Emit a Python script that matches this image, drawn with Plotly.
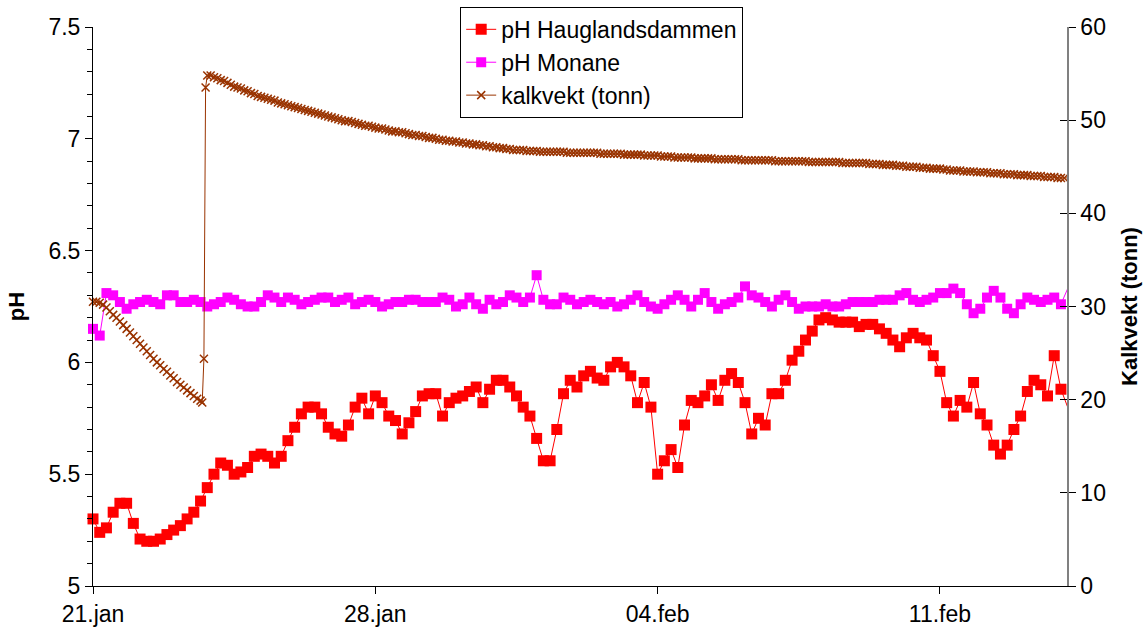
import plotly.graph_objects as go
import pandas as pd

# ---------------- data ----------------
start_date = "2007-01-21"
ph_hours = list(range(0, 581, 4))  # measurement times (hours after 21.jan 00:00)

ph_haugland = [
    5.30, 5.24, 5.26, 5.33, 5.37, 5.37, 5.28, 5.21, 5.20, 5.20,
    5.21, 5.23, 5.25, 5.27, 5.30, 5.33, 5.38, 5.44, 5.50, 5.55,
    5.54, 5.50, 5.51, 5.53, 5.58, 5.59, 5.58, 5.55, 5.58, 5.65,
    5.71, 5.77, 5.80, 5.80, 5.77, 5.71, 5.68, 5.67, 5.72, 5.80,
    5.84, 5.77, 5.85, 5.82, 5.76, 5.74, 5.68, 5.73, 5.78, 5.85,
    5.86, 5.86, 5.76, 5.82, 5.84, 5.85, 5.87, 5.89, 5.82, 5.88,
    5.92, 5.92, 5.89, 5.85, 5.80, 5.76, 5.66, 5.56, 5.56, 5.70,
    5.86, 5.92, 5.89, 5.94, 5.96, 5.93, 5.92, 5.98, 6.00, 5.98,
    5.94, 5.82, 5.91, 5.80, 5.50, 5.56, 5.61, 5.53, 5.72, 5.83,
    5.82, 5.85, 5.90, 5.83, 5.92, 5.95, 5.91, 5.82, 5.68, 5.75,
    5.72, 5.86, 5.86, 5.92, 6.01, 6.05, 6.10, 6.14, 6.19, 6.20,
    6.19, 6.18, 6.18, 6.18, 6.16, 6.17, 6.17, 6.15, 6.13, 6.10,
    6.07, 6.11, 6.13, 6.11, 6.10, 6.03, 5.96, 5.82, 5.76, 5.83,
    5.80, 5.91, 5.77, 5.72, 5.63, 5.59, 5.63, 5.70, 5.76, 5.87,
    5.92, 5.90, 5.85, 6.03, 5.88, 5.80,
]

ph_monane = [
    6.15, 6.12, 6.31, 6.30, 6.27, 6.24, 6.26, 6.27, 6.28, 6.27,
    6.26, 6.30, 6.30, 6.27, 6.27, 6.28, 6.27, 6.25, 6.26, 6.27,
    6.29, 6.28, 6.26, 6.25, 6.25, 6.27, 6.30, 6.29, 6.27, 6.29,
    6.28, 6.26, 6.27, 6.28, 6.29, 6.29, 6.27, 6.28, 6.29, 6.26,
    6.27, 6.28, 6.27, 6.25, 6.26, 6.27, 6.27, 6.28, 6.28, 6.27,
    6.27, 6.27, 6.29, 6.28, 6.25, 6.26, 6.29, 6.26, 6.24, 6.28,
    6.26, 6.27, 6.30, 6.29, 6.27, 6.29, 6.39, 6.28, 6.26, 6.26,
    6.29, 6.28, 6.26, 6.27, 6.28, 6.27, 6.26, 6.27, 6.25, 6.26,
    6.28, 6.30, 6.27, 6.25, 6.24, 6.26, 6.28, 6.30, 6.28, 6.25,
    6.28, 6.31, 6.27, 6.24, 6.26, 6.27, 6.29, 6.34, 6.30, 6.29,
    6.27, 6.25, 6.28, 6.30, 6.27, 6.24, 6.25, 6.25, 6.25, 6.26,
    6.25, 6.25, 6.26, 6.27, 6.27, 6.27, 6.27, 6.28, 6.28, 6.28,
    6.30, 6.31, 6.28, 6.27, 6.28, 6.29, 6.31, 6.31, 6.33, 6.31,
    6.26, 6.22, 6.24, 6.29, 6.32, 6.29, 6.24, 6.22, 6.26, 6.29,
    6.28, 6.27, 6.28, 6.29, 6.26, 6.33,
]

kalk_hours = list(range(0, 65, 2)) + [65, 66, 67] + list(range(68, 581, 2))
kalk_tonn = [
    # 21.jan - 23.jan (before refill)
    30.5, 30.5, 30.4, 30.2, 29.9, 29.5, 29.1, 28.8, 28.4, 28.0, 27.6, 27.2,
    26.8, 26.4, 26.0, 25.6, 25.2, 24.8, 24.4, 24.0, 23.7, 23.3, 23.0, 22.6,
    22.3, 21.9, 21.6, 21.3, 21.0, 20.7, 20.4, 20.1, 19.9,
    # refill
    19.7, 24.4, 53.5,
    54.8, 54.8,
    54.6, 54.5, 54.3, 54.2, 54.0, 53.8, 53.6, 53.5, 53.4, 53.2, 53.1, 52.9,
    52.8, 52.6, 52.5, 52.4, 52.3, 52.2, 52.1, 51.9, 51.8, 51.7, 51.6, 51.5,
    51.4, 51.3, 51.2, 51.1, 51.0, 50.9, 50.8, 50.7, 50.6, 50.5, 50.4, 50.3,
    50.2, 50.1, 50.0, 49.9, 49.9, 49.8, 49.7, 49.6, 49.5, 49.4, 49.4, 49.3,
    49.2, 49.1, 49.1, 49.0, 48.9, 48.8, 48.8, 48.7, 48.7, 48.6, 48.5, 48.4,
    48.4, 48.3, 48.3, 48.2, 48.1, 48.1, 48.0, 47.9, 47.9, 47.8, 47.8, 47.7,
    47.7, 47.6, 47.6, 47.5, 47.5, 47.4, 47.4, 47.3, 47.3, 47.2, 47.2, 47.1,
    47.1, 47.0, 47.0, 46.9, 46.9, 46.8, 46.8, 46.8, 46.8, 46.7, 46.7, 46.7,
    46.7, 46.6, 46.6, 46.6, 46.6, 46.6, 46.6, 46.6, 46.6, 46.5, 46.5, 46.5,
    46.5, 46.5, 46.5, 46.5, 46.5, 46.5, 46.5, 46.4, 46.4, 46.4, 46.4, 46.4,
    46.4, 46.4, 46.3, 46.3, 46.3, 46.3, 46.3, 46.3, 46.2, 46.2, 46.2, 46.2,
    46.2, 46.1, 46.1, 46.1, 46.1, 46.0, 46.0, 46.0, 46.0, 46.0, 46.0, 45.9,
    45.9, 45.9, 45.9, 45.9, 45.9, 45.8, 45.8, 45.8, 45.8, 45.8, 45.8, 45.8,
    45.8, 45.7, 45.7, 45.7, 45.7, 45.7, 45.7, 45.7, 45.7, 45.7, 45.7, 45.6,
    45.6, 45.6, 45.6, 45.6, 45.6, 45.6, 45.6, 45.6, 45.6, 45.5, 45.5, 45.5,
    45.5, 45.5, 45.5, 45.5, 45.5, 45.5, 45.5, 45.4, 45.4, 45.4, 45.4, 45.4,
    45.4, 45.4, 45.4, 45.3, 45.3, 45.3, 45.3, 45.2, 45.2, 45.2, 45.2, 45.1,
    45.1, 45.1, 45.0, 45.0, 45.0, 45.0, 44.9, 44.9, 44.9, 44.8, 44.8, 44.8,
    44.8, 44.7, 44.7, 44.6, 44.6, 44.6, 44.6, 44.5, 44.5, 44.5, 44.5, 44.4,
    44.4, 44.4, 44.4, 44.3, 44.3, 44.3, 44.3, 44.2, 44.2, 44.2, 44.2, 44.1,
    44.1, 44.1, 44.1, 44.0, 44.0, 44.0, 44.0, 43.9, 43.9, 43.9, 43.9, 43.8,
    43.8, 43.8, 43.8,
]

tick_dates = ["2007-01-21", "2007-01-28", "2007-02-04", "2007-02-11"]
tick_labels = ["21.jan", "28.jan", "04.feb", "11.feb"]
x_range_days = 24.15

# ---------------- figure ----------------
base = pd.Timestamp(start_date)
x_ph = [base + pd.Timedelta(hours=h) for h in ph_hours]
x_kalk = [base + pd.Timedelta(hours=h) for h in kalk_hours]

FONT = "Liberation Sans, Arial, sans-serif"
TICK_SIZE = 23

fig = go.Figure()
fig.add_trace(go.Scatter(
    x=x_ph, y=ph_haugland, name="pH Hauglandsdammen", mode="lines+markers",
    line=dict(color="#FF0000", width=1),
    marker=dict(symbol="square", size=11, color="#FF0000"),
    cliponaxis=False,
))
fig.add_trace(go.Scatter(
    x=x_ph, y=ph_monane, name="pH Monane", mode="lines+markers",
    line=dict(color="#FF00FF", width=1),
    marker=dict(symbol="square", size=10, color="#FF00FF"),
    cliponaxis=False,
))
fig.add_trace(go.Scatter(
    x=x_kalk, y=kalk_tonn, name="kalkvekt (tonn)", mode="lines+markers",
    yaxis="y2",
    line=dict(color="#993300", width=1),
    marker=dict(symbol="x-thin", size=8, color="#993300",
                line=dict(color="#993300", width=1.5)),
    cliponaxis=False,
))
# helper trace so the crossing (inside) ticks of the right axis are drawn
fig.add_trace(go.Scatter(x=[None], y=[None], yaxis="y3", showlegend=False,
                         hoverinfo="skip"))

fig.update_layout(
    width=1146, height=631,
    margin=dict(l=93, r=79, t=27, b=45, autoexpand=False),
    paper_bgcolor="white", plot_bgcolor="white",
    font=dict(family=FONT, size=TICK_SIZE, color="black"),
    showlegend=True,
    legend=dict(
        x=0.377, y=1.036, xanchor="left", yanchor="top",
        bgcolor="white", bordercolor="black", borderwidth=1,
        font=dict(size=23), tracegroupgap=0,
    ),
    xaxis=dict(
        type="date",
        range=[base, base + pd.Timedelta(days=x_range_days)],
        tickmode="array", tickvals=tick_dates, ticktext=tick_labels,
        ticks="outside", ticklen=7, tickcolor="black",
        showline=True, linecolor="black", linewidth=1,
        showgrid=False, zeroline=False, automargin=False,
        tickfont=dict(size=TICK_SIZE),
    ),
    yaxis=dict(
        range=[5, 7.5], dtick=0.5, tick0=5,
        ticks="outside", ticklen=7, tickcolor="black",
        minor=dict(dtick=0.1, ticks="outside", ticklen=5, tickcolor="black"),
        showline=True, linecolor="black", linewidth=1,
        showgrid=False, zeroline=False, automargin=False,
        title=dict(text="<b>pH</b>", font=dict(size=22), standoff=17),
        tickfont=dict(size=TICK_SIZE),
    ),
    yaxis2=dict(
        overlaying="y", side="right",
        range=[0, 60], dtick=10, tick0=0,
        ticks="outside", ticklen=7, tickcolor="black",
        showline=True, linecolor="#808080", linewidth=1.5,
        showgrid=False, zeroline=False, automargin=False,
        title=dict(text="<b>Kalkvekt (tonn)</b>", font=dict(size=22), standoff=17),
        tickfont=dict(size=TICK_SIZE),
    ),
    yaxis3=dict(
        overlaying="y", side="right",
        range=[0, 60], dtick=10, tick0=0,
        ticks="inside", ticklen=7, tickcolor="black",
        showticklabels=False, showline=False,
        showgrid=False, zeroline=False, automargin=False,
    ),
)

fig.write_html(
    "out.html",
    config={"displayModeBar": False},
    post_script="document.body.style.margin='0px';document.body.style.overflow='hidden';",
)
